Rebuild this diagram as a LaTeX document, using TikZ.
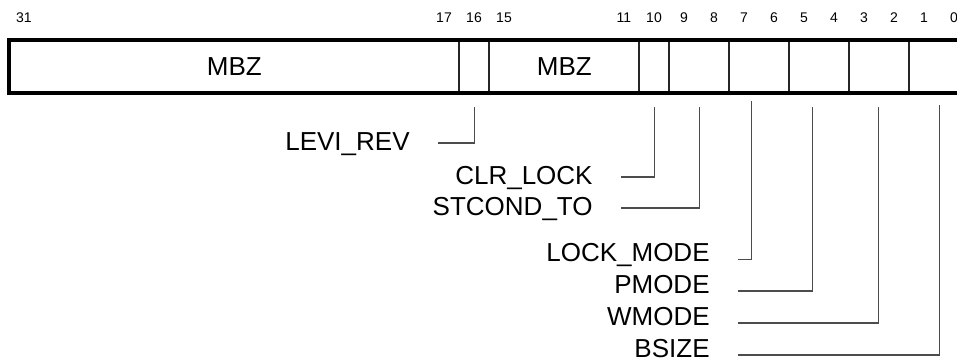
\documentclass[tikz,border=0pt]{standalone}
\usepackage{fontspec}
\setmainfont{Liberation Sans}
\usetikzlibrary{calc}
\tikzset{
 frame/.style={line width=2pt,draw=black},
 divider/.style={line width=0.7pt,draw=black!85},
 field/.style={anchor=west,minimum height=26.5pt,inner sep=0pt,font=\fontsize{13pt}{15pt}\selectfont},
 bitno/.style={inner sep=0pt,font=\fontsize{7pt}{8pt}\selectfont},
 flabel/.style={anchor=east,inner xsep=14pt,inner ysep=0pt,text height=0.716em,text depth=0pt,font=\fontsize{13pt}{15pt}\selectfont},
 callout/.style={line width=0.75pt,draw=black!70}
}
\begin{document}
\begin{tikzpicture}[x=0.5pt,y=-0.5pt]
\clip (0,0) rectangle (957,360);
% register fields
\foreach \name/\hi/\lo/\txt in {mbzA/31/17/MBZ,levi/16/16/{},mbzB/15/11/MBZ,clrlock/10/10/{},stcond/9/8/{},lockmode/7/6/{},pmode/5/4/{},wmode/3/2/{},bsize/1/0/{}} {
 \pgfmathsetmacro\w{(\hi-\lo+1)*15}
 \node[field,minimum width=\w pt] (\name) at ({9+(31-\hi)*30},66.5) {\txt};
}
\foreach \name in {levi,mbzB,clrlock,stcond,lockmode,pmode,wmode,bsize}
 \draw[divider] (\name.north west) -- (\name.south west);
\draw[frame] (bsize.north east) -- (mbzA.north west) -- (mbzA.south west) -- (bsize.south east);
% bit numbers
\foreach \b in {31,17,16,15,11,10,9,8,7,6,5,4,3,2,1,0}
 \node[bitno] (bit\b) at ({24+(31-\b)*30},18) {\b};
% field names
\node[flabel] (lLevi) at (438,143) {LEVI\_REV};
\node[flabel] (lClr) at (621,177) {CLR\_LOCK};
\node[flabel] (lStc) at (621,208) {STCOND\_TO};
\node[flabel] (lLock) at (738,254.5) {LOCK\_MODE};
\node[flabel] (lPm) at (738,286) {PMODE};
\node[flabel] (lWm) at (738,318) {WMODE};
\node[flabel] (lBs) at (738,350) {BSIZE};
\draw[callout] ([yshift=-7pt]levi.south) |- (lLevi.east);
\draw[callout] ([yshift=-7pt]clrlock.south) |- (lClr.east);
\draw[callout] ([yshift=-7pt]stcond.south) |- (lStc.east);
\draw[callout] ([xshift=-4pt,yshift=-4pt]lockmode.south) |- ([yshift=-2.5pt]lLock.east);
\draw[callout] ([xshift=-3.5pt,yshift=-7pt]pmode.south) |- ([yshift=-2.5pt]lPm.east);
\draw[callout] ([xshift=-0.5pt,yshift=-7pt]wmode.south) |- ([yshift=-2.5pt]lWm.east);
\draw[callout] ([yshift=-6pt]bsize.south) |- ([yshift=-2.5pt]lBs.east);
\end{tikzpicture}
\end{document}
